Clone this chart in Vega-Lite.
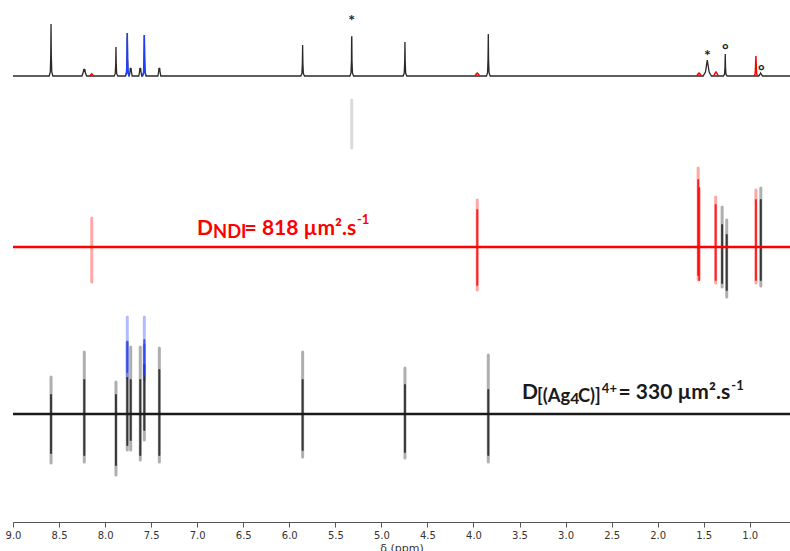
{
  "$schema": "https://vega.github.io/schema/vega-lite/v6.json",
  "autosize": {"type": "none"},
  "width": 777,
  "height": 522,
  "padding": {"left": 13, "top": 0, "right": 0, "bottom": 29},
  "background": "white",
  "config": {
    "view": {"stroke": null},
    "axisX": {
      "values": [9, 8.75, 8.5, 8.25, 8, 7.75, 7.5, 7.25, 7, 6.75, 6.5, 6.25, 6, 5.75, 5.5, 5.25, 5, 4.75, 4.5, 4.25, 4, 3.75, 3.5, 3.25, 3, 2.75, 2.5, 2.25, 2, 1.75, 1.5, 1.25, 1, 0.75],
      "labelExpr": "round(datum.value*4) % 2 == 0 ? format(datum.value, '.1f') : ''",
      "tickSize": {"condition": {"test": "round(datum.value*4) % 2 == 0", "value": 5}, "value": 2.5},
      "domainColor": "#555", "tickColor": "#555", "labelColor": "#333",
      "labelFont": "DejaVu Sans", "labelFontSize": 10, "labelPadding": 3,
      "titleFont": "DejaVu Sans", "titleFontSize": 11, "titleFontWeight": "normal", "titleColor": "#333", "titlePadding": 2,
      "grid": false, "labelOverlap": false, "labelFlush": false
    }
  },
  "datasets": {
    "spec": [
      {"ppm": 9.0, "I": 0, "seg": "main", "grp": "cage"},
      {"ppm": 8.607, "I": 0, "seg": "main", "grp": "cage"},
      {"ppm": 8.595, "I": 4.2, "seg": "main", "grp": "cage"},
      {"ppm": 8.59, "I": 20.8, "seg": "main", "grp": "cage"},
      {"ppm": 8.587, "I": 52, "seg": "main", "grp": "cage"},
      {"ppm": 8.584, "I": 20.8, "seg": "main", "grp": "cage"},
      {"ppm": 8.579, "I": 4.2, "seg": "main", "grp": "cage"},
      {"ppm": 8.567, "I": 0, "seg": "main", "grp": "cage"},
      {"ppm": 8.251, "I": 0, "seg": "main", "grp": "cage"},
      {"ppm": 8.238, "I": 3.5, "seg": "main", "grp": "cage"},
      {"ppm": 8.231, "I": 7, "seg": "main", "grp": "cage"},
      {"ppm": 8.226, "I": 5.6, "seg": "main", "grp": "cage"},
      {"ppm": 8.221, "I": 7, "seg": "main", "grp": "cage"},
      {"ppm": 8.214, "I": 3.5, "seg": "main", "grp": "cage"},
      {"ppm": 8.201, "I": 0, "seg": "main", "grp": "cage"},
      {"ppm": 7.902, "I": 0, "seg": "main", "grp": "cage"},
      {"ppm": 7.89, "I": 2.3, "seg": "main", "grp": "cage"},
      {"ppm": 7.885, "I": 11.6, "seg": "main", "grp": "cage"},
      {"ppm": 7.882, "I": 29, "seg": "main", "grp": "cage"},
      {"ppm": 7.879, "I": 11.6, "seg": "main", "grp": "cage"},
      {"ppm": 7.874, "I": 2.3, "seg": "main", "grp": "cage"},
      {"ppm": 7.862, "I": 0, "seg": "main", "grp": "cage"},
      {"ppm": 7.779, "I": 0, "seg": "main", "grp": "cage"},
      {"ppm": 7.767, "I": 3.4, "seg": "main", "grp": "cage"},
      {"ppm": 7.762, "I": 17.2, "seg": "main", "grp": "cage"},
      {"ppm": 7.759, "I": 43, "seg": "main", "grp": "cage"},
      {"ppm": 7.756, "I": 17.2, "seg": "main", "grp": "cage"},
      {"ppm": 7.751, "I": 3.4, "seg": "main", "grp": "cage"},
      {"ppm": 7.739, "I": 0, "seg": "main", "grp": "cage"},
      {"ppm": 7.738, "I": 0, "seg": "main", "grp": "cage"},
      {"ppm": 7.73, "I": 4, "seg": "main", "grp": "cage"},
      {"ppm": 7.726, "I": 8, "seg": "main", "grp": "cage"},
      {"ppm": 7.722, "I": 6.4, "seg": "main", "grp": "cage"},
      {"ppm": 7.718, "I": 8, "seg": "main", "grp": "cage"},
      {"ppm": 7.714, "I": 4, "seg": "main", "grp": "cage"},
      {"ppm": 7.706, "I": 0, "seg": "main", "grp": "cage"},
      {"ppm": 7.634, "I": 0, "seg": "main", "grp": "cage"},
      {"ppm": 7.626, "I": 4, "seg": "main", "grp": "cage"},
      {"ppm": 7.622, "I": 8, "seg": "main", "grp": "cage"},
      {"ppm": 7.618, "I": 6.4, "seg": "main", "grp": "cage"},
      {"ppm": 7.614, "I": 8, "seg": "main", "grp": "cage"},
      {"ppm": 7.61, "I": 4, "seg": "main", "grp": "cage"},
      {"ppm": 7.602, "I": 0, "seg": "main", "grp": "cage"},
      {"ppm": 7.594, "I": 0, "seg": "main", "grp": "cage"},
      {"ppm": 7.582, "I": 3.3, "seg": "main", "grp": "cage"},
      {"ppm": 7.577, "I": 16.4, "seg": "main", "grp": "cage"},
      {"ppm": 7.574, "I": 41, "seg": "main", "grp": "cage"},
      {"ppm": 7.571, "I": 16.4, "seg": "main", "grp": "cage"},
      {"ppm": 7.566, "I": 3.3, "seg": "main", "grp": "cage"},
      {"ppm": 7.554, "I": 0, "seg": "main", "grp": "cage"},
      {"ppm": 7.427, "I": 0, "seg": "main", "grp": "cage"},
      {"ppm": 7.419, "I": 4, "seg": "main", "grp": "cage"},
      {"ppm": 7.415, "I": 8, "seg": "main", "grp": "cage"},
      {"ppm": 7.411, "I": 6.4, "seg": "main", "grp": "cage"},
      {"ppm": 7.407, "I": 8, "seg": "main", "grp": "cage"},
      {"ppm": 7.403, "I": 4, "seg": "main", "grp": "cage"},
      {"ppm": 7.395, "I": 0, "seg": "main", "grp": "cage"},
      {"ppm": 5.875, "I": 0, "seg": "main", "grp": "cage"},
      {"ppm": 5.863, "I": 2.5, "seg": "main", "grp": "cage"},
      {"ppm": 5.858, "I": 12.4, "seg": "main", "grp": "cage"},
      {"ppm": 5.855, "I": 31, "seg": "main", "grp": "cage"},
      {"ppm": 5.852, "I": 12.4, "seg": "main", "grp": "cage"},
      {"ppm": 5.847, "I": 2.5, "seg": "main", "grp": "cage"},
      {"ppm": 5.835, "I": 0, "seg": "main", "grp": "cage"},
      {"ppm": 5.342, "I": 0, "seg": "main", "grp": "cage"},
      {"ppm": 5.33, "I": 3.1, "seg": "main", "grp": "cage"},
      {"ppm": 5.325, "I": 15.6, "seg": "main", "grp": "cage"},
      {"ppm": 5.323, "I": 39, "seg": "main", "grp": "cage"},
      {"ppm": 5.321, "I": 39, "seg": "main", "grp": "cage"},
      {"ppm": 5.319, "I": 15.6, "seg": "main", "grp": "cage"},
      {"ppm": 5.314, "I": 3.1, "seg": "main", "grp": "cage"},
      {"ppm": 5.302, "I": 0, "seg": "main", "grp": "cage"},
      {"ppm": 4.764, "I": 0, "seg": "main", "grp": "cage"},
      {"ppm": 4.752, "I": 2.7, "seg": "main", "grp": "cage"},
      {"ppm": 4.747, "I": 13.6, "seg": "main", "grp": "cage"},
      {"ppm": 4.744, "I": 34, "seg": "main", "grp": "cage"},
      {"ppm": 4.741, "I": 13.6, "seg": "main", "grp": "cage"},
      {"ppm": 4.736, "I": 2.7, "seg": "main", "grp": "cage"},
      {"ppm": 4.724, "I": 0, "seg": "main", "grp": "cage"},
      {"ppm": 3.859, "I": 0, "seg": "main", "grp": "cage"},
      {"ppm": 3.847, "I": 3.4, "seg": "main", "grp": "cage"},
      {"ppm": 3.842, "I": 16.8, "seg": "main", "grp": "cage"},
      {"ppm": 3.839, "I": 42, "seg": "main", "grp": "cage"},
      {"ppm": 3.836, "I": 16.8, "seg": "main", "grp": "cage"},
      {"ppm": 3.831, "I": 3.4, "seg": "main", "grp": "cage"},
      {"ppm": 3.819, "I": 0, "seg": "main", "grp": "cage"},
      {"ppm": 1.506, "I": 0, "seg": "main", "grp": "cage"},
      {"ppm": 1.481, "I": 4, "seg": "main", "grp": "cage"},
      {"ppm": 1.469, "I": 11.2, "seg": "main", "grp": "cage"},
      {"ppm": 1.461, "I": 16, "seg": "main", "grp": "cage"},
      {"ppm": 1.453, "I": 11.2, "seg": "main", "grp": "cage"},
      {"ppm": 1.441, "I": 4, "seg": "main", "grp": "cage"},
      {"ppm": 1.416, "I": 0, "seg": "main", "grp": "cage"},
      {"ppm": 1.286, "I": 0, "seg": "main", "grp": "cage"},
      {"ppm": 1.274, "I": 1.8, "seg": "main", "grp": "cage"},
      {"ppm": 1.269, "I": 8.8, "seg": "main", "grp": "cage"},
      {"ppm": 1.266, "I": 22, "seg": "main", "grp": "cage"},
      {"ppm": 1.263, "I": 8.8, "seg": "main", "grp": "cage"},
      {"ppm": 1.258, "I": 1.8, "seg": "main", "grp": "cage"},
      {"ppm": 1.246, "I": 0, "seg": "main", "grp": "cage"},
      {"ppm": 0.902, "I": 0, "seg": "main", "grp": "cage"},
      {"ppm": 0.89, "I": 1.5, "seg": "main", "grp": "cage"},
      {"ppm": 0.882, "I": 3, "seg": "main", "grp": "cage"},
      {"ppm": 0.874, "I": 1.5, "seg": "main", "grp": "cage"},
      {"ppm": 0.862, "I": 0, "seg": "main", "grp": "cage"},
      {"ppm": 0.563, "I": 0, "seg": "main", "grp": "cage"},
      {"ppm": 7.779, "I": 0, "seg": "b1", "grp": "cage-H"},
      {"ppm": 7.767, "I": 3.4, "seg": "b1", "grp": "cage-H"},
      {"ppm": 7.762, "I": 17.2, "seg": "b1", "grp": "cage-H"},
      {"ppm": 7.759, "I": 43, "seg": "b1", "grp": "cage-H"},
      {"ppm": 7.756, "I": 17.2, "seg": "b1", "grp": "cage-H"},
      {"ppm": 7.751, "I": 3.4, "seg": "b1", "grp": "cage-H"},
      {"ppm": 7.739, "I": 0, "seg": "b1", "grp": "cage-H"},
      {"ppm": 7.594, "I": 0, "seg": "b2", "grp": "cage-H"},
      {"ppm": 7.582, "I": 3.3, "seg": "b2", "grp": "cage-H"},
      {"ppm": 7.577, "I": 16.4, "seg": "b2", "grp": "cage-H"},
      {"ppm": 7.574, "I": 41, "seg": "b2", "grp": "cage-H"},
      {"ppm": 7.571, "I": 16.4, "seg": "b2", "grp": "cage-H"},
      {"ppm": 7.566, "I": 3.3, "seg": "b2", "grp": "cage-H"},
      {"ppm": 7.554, "I": 0, "seg": "b2", "grp": "cage-H"},
      {"ppm": 8.165, "I": 0, "seg": "r1", "grp": "NDI"},
      {"ppm": 8.152, "I": 1.5, "seg": "r1", "grp": "NDI"},
      {"ppm": 8.145, "I": 2.2, "seg": "r1", "grp": "NDI"},
      {"ppm": 8.138, "I": 1.5, "seg": "r1", "grp": "NDI"},
      {"ppm": 8.125, "I": 0, "seg": "r1", "grp": "NDI"},
      {"ppm": 3.984, "I": 0, "seg": "r2", "grp": "NDI"},
      {"ppm": 3.97, "I": 2, "seg": "r2", "grp": "NDI"},
      {"ppm": 3.959, "I": 3, "seg": "r2", "grp": "NDI"},
      {"ppm": 3.948, "I": 2, "seg": "r2", "grp": "NDI"},
      {"ppm": 3.934, "I": 0, "seg": "r2", "grp": "NDI"},
      {"ppm": 1.576, "I": 0, "seg": "r3", "grp": "NDI"},
      {"ppm": 1.562, "I": 2, "seg": "r3", "grp": "NDI"},
      {"ppm": 1.551, "I": 3, "seg": "r3", "grp": "NDI"},
      {"ppm": 1.54, "I": 2, "seg": "r3", "grp": "NDI"},
      {"ppm": 1.526, "I": 0, "seg": "r3", "grp": "NDI"},
      {"ppm": 1.392, "I": 0, "seg": "r4", "grp": "NDI"},
      {"ppm": 1.378, "I": 2.6, "seg": "r4", "grp": "NDI"},
      {"ppm": 1.367, "I": 4, "seg": "r4", "grp": "NDI"},
      {"ppm": 1.356, "I": 2.6, "seg": "r4", "grp": "NDI"},
      {"ppm": 1.342, "I": 0, "seg": "r4", "grp": "NDI"},
      {"ppm": 0.948, "I": 0, "seg": "r5", "grp": "NDI"},
      {"ppm": 0.94, "I": 3, "seg": "r5", "grp": "NDI"},
      {"ppm": 0.936, "I": 12, "seg": "r5", "grp": "NDI"},
      {"ppm": 0.933, "I": 20, "seg": "r5", "grp": "NDI"},
      {"ppm": 0.93, "I": 12, "seg": "r5", "grp": "NDI"},
      {"ppm": 0.926, "I": 3, "seg": "r5", "grp": "NDI"},
      {"ppm": 0.918, "I": 0, "seg": "r5", "grp": "NDI"}
    ],
    "symbols": [
      {"ppm": 5.322, "I": 58, "sym": "*"},
      {"ppm": 1.461, "I": 23, "sym": "*"},
      {"ppm": 1.266, "I": 29, "sym": "°"},
      {"ppm": 0.875, "I": 8, "sym": "°"}
    ],
    "contours": [
      {"ppm": 8.587, "lo": 252.8, "hi": 403.6, "grp": "cage", "part": "outer"},
      {"ppm": 8.587, "lo": 267.0, "hi": 365.9, "grp": "cage", "part": "core"},
      {"ppm": 8.226, "lo": 254.2, "hi": 462.3, "grp": "cage", "part": "outer"},
      {"ppm": 8.226, "lo": 264.1, "hi": 397.0, "grp": "cage", "part": "core"},
      {"ppm": 7.882, "lo": 236.8, "hi": 392.7, "grp": "cage", "part": "outer"},
      {"ppm": 7.882, "lo": 250.1, "hi": 365.9, "grp": "cage", "part": "core"},
      {"ppm": 7.759, "lo": 271.4, "hi": 488.1, "grp": "cage", "part": "outer"},
      {"ppm": 7.759, "lo": 278.8, "hi": 401.3, "grp": "cage", "part": "core"},
      {"ppm": 7.722, "lo": 271.4, "hi": 475.0, "grp": "cage", "part": "outer"},
      {"ppm": 7.722, "lo": 286.5, "hi": 397.0, "grp": "cage", "part": "core"},
      {"ppm": 7.618, "lo": 257.0, "hi": 475.0, "grp": "cage", "part": "outer"},
      {"ppm": 7.618, "lo": 264.1, "hi": 397.0, "grp": "cage", "part": "core"},
      {"ppm": 7.574, "lo": 286.5, "hi": 480.2, "grp": "cage", "part": "outer"},
      {"ppm": 7.574, "lo": 302.5, "hi": 430.7, "grp": "cage", "part": "core"},
      {"ppm": 7.411, "lo": 254.2, "hi": 472.4, "grp": "cage", "part": "outer"},
      {"ppm": 7.411, "lo": 264.1, "hi": 419.2, "grp": "cage", "part": "core"},
      {"ppm": 5.855, "lo": 261.2, "hi": 462.3, "grp": "cage", "part": "outer"},
      {"ppm": 5.855, "lo": 271.4, "hi": 397.0, "grp": "cage", "part": "core"},
      {"ppm": 4.744, "lo": 259.8, "hi": 423.8, "grp": "cage", "part": "outer"},
      {"ppm": 4.744, "lo": 268.4, "hi": 386.4, "grp": "cage", "part": "core"},
      {"ppm": 3.839, "lo": 254.2, "hi": 454.8, "grp": "cage", "part": "outer"},
      {"ppm": 3.839, "lo": 264.1, "hi": 376.0, "grp": "cage", "part": "core"},
      {"ppm": 1.3, "lo": 658.1, "hi": 1017, "grp": "cage", "part": "outer"},
      {"ppm": 1.3, "lo": 672.6, "hi": 922, "grp": "cage", "part": "core"},
      {"ppm": 1.25, "lo": 623.3, "hi": 947, "grp": "cage", "part": "outer"},
      {"ppm": 1.25, "lo": 647.5, "hi": 873, "grp": "cage", "part": "core"},
      {"ppm": 0.88, "lo": 661.8, "hi": 1127, "grp": "cage", "part": "outer"},
      {"ppm": 0.88, "lo": 683.7, "hi": 1056, "grp": "cage", "part": "core"},
      {"ppm": 7.759, "lo": 401.3, "hi": 559.2, "grp": "cage-H", "part": "outer"},
      {"ppm": 7.759, "lo": 414.7, "hi": 488.1, "grp": "cage-H", "part": "core"},
      {"ppm": 7.574, "lo": 397.0, "hi": 559.2, "grp": "cage-H", "part": "outer"},
      {"ppm": 7.574, "lo": 408.0, "hi": 493.5, "grp": "cage-H", "part": "core"},
      {"ppm": 8.145, "lo": 676.3, "hi": 958, "grp": "NDI", "part": "outer"},
      {"ppm": 3.959, "lo": 647.5, "hi": 1056, "grp": "NDI", "part": "outer"},
      {"ppm": 3.959, "lo": 665.4, "hi": 1000, "grp": "NDI", "part": "core"},
      {"ppm": 1.56, "lo": 683.7, "hi": 1257, "grp": "NDI", "part": "outer"},
      {"ppm": 1.56, "lo": 702.5, "hi": 1177, "grp": "NDI", "part": "core"},
      {"ppm": 1.548, "lo": 683.7, "hi": 1127, "grp": "NDI", "part": "core"},
      {"ppm": 1.37, "lo": 672.6, "hi": 1074, "grp": "NDI", "part": "outer"},
      {"ppm": 1.37, "lo": 683.7, "hi": 1028, "grp": "NDI", "part": "core"},
      {"ppm": 0.933, "lo": 672.6, "hi": 1115, "grp": "NDI", "part": "outer"},
      {"ppm": 0.933, "lo": 683.7, "hi": 1056, "grp": "NDI", "part": "core"},
      {"ppm": 5.322, "lo": 1401, "hi": 1819, "grp": "solvent", "part": "outer"}
    ],
    "dlines": [
      {"species": "NDI", "grp": "NDI", "D": 818, "ppm": 9.0, "ppm_end": 0.563},
      {"species": "[(Ag4C)]4+", "grp": "cage", "D": 330, "ppm": 9.0, "ppm_end": 0.563}
    ],
    "labels": [
      {"txt": "D", "ppm": 7.002, "D": 873, "role": "main", "grp": "NDI"},
      {"txt": "NDI", "ppm": 6.828, "D": 859, "role": "sub", "grp": "NDI"},
      {"txt": "= 818 µm².s", "ppm": 6.485, "D": 873, "role": "main", "grp": "NDI"},
      {"txt": "-1", "ppm": 5.265, "D": 927, "role": "sup", "grp": "NDI"},
      {"txt": "D", "ppm": 3.473, "D": 358, "role": "main", "grp": "cage"},
      {"txt": "[(Ag", "ppm": 3.311, "D": 352.3, "role": "sub", "grp": "cage"},
      {"txt": "4", "ppm": 2.95, "D": 348.4, "role": "subsub", "grp": "cage"},
      {"txt": "C)]", "ppm": 2.866, "D": 352.3, "role": "sub", "grp": "cage"},
      {"txt": "4+", "ppm": 2.606, "D": 369.9, "role": "sup", "grp": "cage"},
      {"txt": "= 330 µm².s", "ppm": 2.425, "D": 358, "role": "main", "grp": "cage"},
      {"txt": "-1", "ppm": 1.2, "D": 376, "role": "sup", "grp": "cage"}
    ]
  },
  "encoding": {
    "x": {"field": "ppm", "type": "quantitative", "title": "δ (ppm)",
          "scale": {"domain": [9.0, 0.563], "nice": false, "zero": false}}
  },
  "resolve": {"scale": {"y": "independent"}, "axis": {"y": "independent"}},
  "layer": [
    {
      "data": {"name": "contours"},
      "transform": [{"filter": "datum.part == 'outer'"}],
      "mark": {"type": "rule", "strokeWidth": 3, "opacity": 0.35, "strokeCap": "round"},
      "encoding": {
        "y": {"field": "lo", "type": "quantitative", "scale": {"type": "log", "domain": [183.4, 3133], "nice": false}, "axis": null},
        "y2": {"field": "hi"},
        "color": {"field": "grp", "type": "nominal", "legend": null,
                  "scale": {"domain": ["cage", "NDI", "cage-H", "solvent"], "range": ["#1a1a1a", "#ff0000", "#1f3fff", "#999999"]}}
      }
    },
    {
      "data": {"name": "contours"},
      "transform": [{"filter": "datum.part == 'core'"}],
      "mark": {"type": "rule", "strokeWidth": 2, "opacity": 0.8, "strokeCap": "round"},
      "encoding": {
        "y": {"field": "lo", "type": "quantitative", "scale": {"type": "log", "domain": [183.4, 3133], "nice": false}, "axis": null},
        "y2": {"field": "hi"},
        "color": {"field": "grp", "type": "nominal", "legend": null,
                  "scale": {"domain": ["cage", "NDI", "cage-H", "solvent"], "range": ["#1a1a1a", "#ff0000", "#1f3fff", "#999999"]}}
      }
    },
    {
      "data": {"name": "dlines"},
      "mark": {"type": "rule", "strokeWidth": 2.6},
      "encoding": {
        "x2": {"field": "ppm_end"},
        "y": {"field": "D", "type": "quantitative", "scale": {"type": "log", "domain": [183.4, 3133], "nice": false}, "axis": null},
        "color": {"field": "grp", "type": "nominal", "legend": null,
                  "scale": {"domain": ["cage", "NDI", "cage-H", "solvent"], "range": ["#000000", "#ff0000", "#1f3fff", "#999999"]}}
      }
    },
    {
      "data": {"name": "labels"},
      "mark": {"type": "text", "align": "left", "baseline": "alphabetic", "font": "Lato", "fontWeight": "bold"},
      "encoding": {
        "y": {"field": "D", "type": "quantitative", "scale": {"type": "log", "domain": [183.4, 3133], "nice": false}, "axis": null},
        "text": {"field": "txt"},
        "size": {"field": "role", "type": "ordinal", "legend": null,
                 "scale": {"domain": ["main", "sub", "subsub", "sup"], "range": [21, 13, 9, 11]}},
        "color": {"field": "grp", "type": "nominal", "legend": null,
                  "scale": {"domain": ["cage", "NDI", "cage-H", "solvent"], "range": ["#000000", "#ff0000", "#1f3fff", "#999999"]}}
      }
    },
    {
      "data": {"name": "spec"},
      "transform": [{"filter": "datum.grp == 'cage'"}],
      "mark": {"type": "line", "strokeWidth": 1.3, "color": "#2a2a2a"},
      "encoding": {
        "y": {"field": "I", "type": "quantitative", "scale": {"domain": [-446, 76], "nice": false, "zero": false}, "axis": null}
      }
    },
    {
      "data": {"name": "spec"},
      "transform": [{"filter": "datum.grp != 'cage'"}],
      "mark": {"type": "line", "strokeWidth": 1.5},
      "encoding": {
        "y": {"field": "I", "type": "quantitative", "scale": {"domain": [-446, 76], "nice": false, "zero": false}, "axis": null},
        "detail": {"field": "seg"},
        "color": {"field": "grp", "type": "nominal", "legend": null,
                  "scale": {"domain": ["cage", "NDI", "cage-H", "solvent"], "range": ["#1a1a1a", "#ff0000", "#1f3fff", "#999999"]}}
      }
    },
    {
      "data": {"name": "symbols"},
      "mark": {"type": "text", "font": "Lato", "fontWeight": "bold", "fontSize": 16, "baseline": "middle", "align": "center", "dy": 3, "color": "#222"},
      "encoding": {
        "y": {"field": "I", "type": "quantitative", "scale": {"domain": [-446, 76], "nice": false, "zero": false}, "axis": null},
        "text": {"field": "sym"}
      }
    }
  ]
}
